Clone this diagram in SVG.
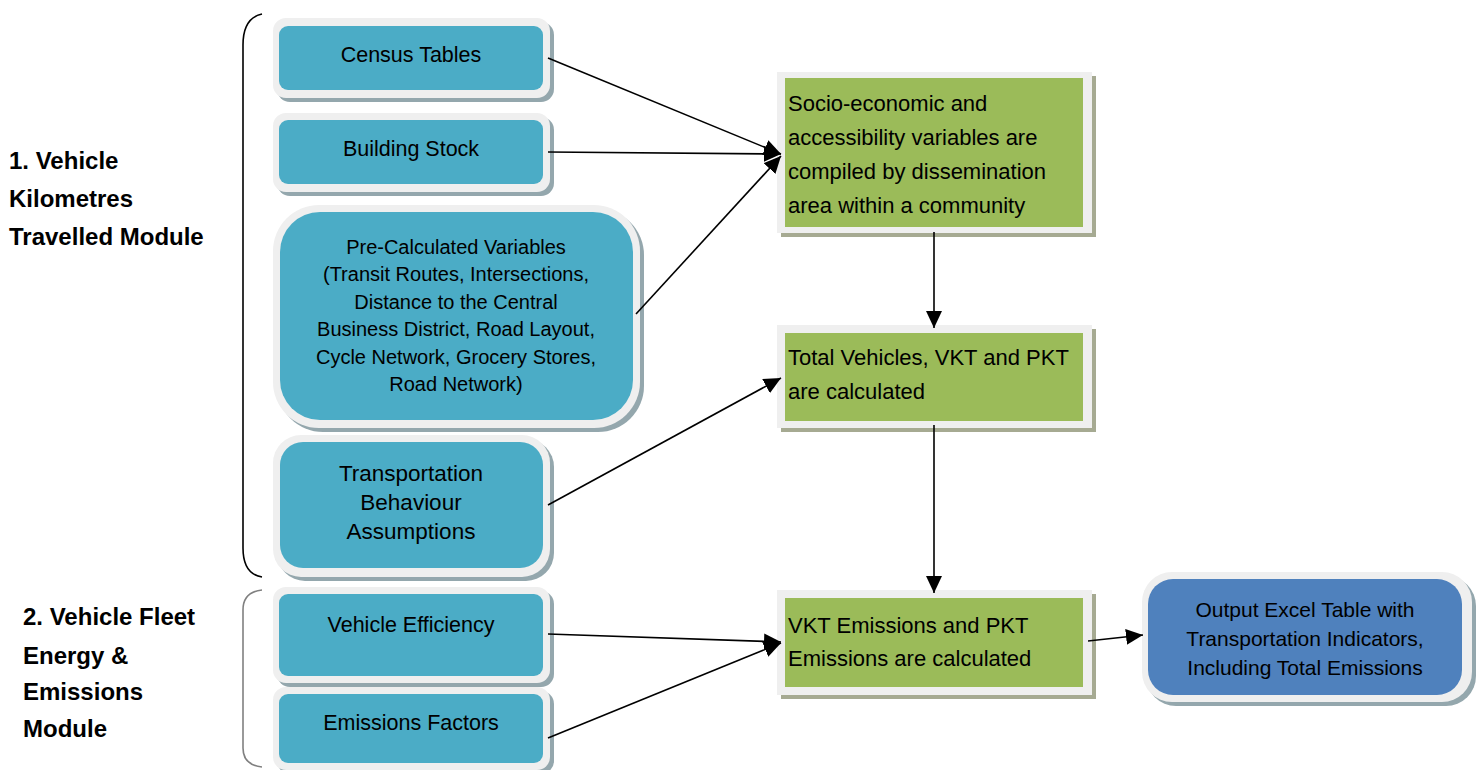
<svg xmlns="http://www.w3.org/2000/svg" width="1478" height="770" viewBox="0 0 1478 770">
<defs>
<marker id="ah" markerUnits="userSpaceOnUse" markerWidth="18" markerHeight="16" refX="17" refY="8" orient="auto"><path d="M0,0 L17,8 L0,16 Z" fill="#000"/></marker>
</defs>
<style>
.frame{fill:#efefef}
.shT{fill:#94a7ad}
.shG{fill:#a6aa92}
.teal{fill:#4bacc6}
.green{fill:#9bbb59}
.blue{fill:#4f81bd}
.t{font-family:"Liberation Sans",Arial,sans-serif;font-size:21.5px;fill:#000;text-anchor:middle}
.p{font-size:20px}
.b{font-size:22.5px}
.o{font-size:21px}
.g{font-family:"Liberation Sans",Arial,sans-serif;font-size:22px;fill:#000}
.lbl{font-family:"Liberation Sans",Arial,sans-serif;font-size:24px;font-weight:bold;fill:#000}
.con{stroke:#000;stroke-width:1.6;fill:none}
</style>
<rect width="1478" height="770" fill="#fff"/>

<g id="label1"><text class="lbl" x="9" y="169">1. Vehicle</text><text class="lbl" x="9" y="207">Kilometres</text><text class="lbl" x="9" y="245">Travelled Module</text></g>
<g id="label2"><text class="lbl" x="23" y="625">2. Vehicle Fleet</text><text class="lbl" x="23" y="664">Energy &amp;</text><text class="lbl" x="23" y="700">Emissions</text><text class="lbl" x="23" y="737">Module</text></g>

<g id="brackets">
<path d="M262,14 Q243,18 243,45 L243,548 Q243,574 262,577" fill="none" stroke="#000" stroke-width="1.6"/>
<path d="M262,590 Q243,592 243,610 L243,748 Q243,765 262,767" fill="none" stroke="#808080" stroke-width="1.6"/>
</g>

<g id="census"><rect class="shT" x="277" y="22" width="277" height="80" rx="13"/><rect class="frame" x="273" y="18" width="277" height="80" rx="13"/><rect class="teal" x="279" y="26" width="264" height="64" rx="9"/><text class="t" x="411" y="62">Census Tables</text></g>
<g id="building"><rect class="shT" x="277" y="117" width="277" height="79" rx="13"/><rect class="frame" x="273" y="113" width="277" height="79" rx="13"/><rect class="teal" x="279" y="120" width="264" height="64" rx="9"/><text class="t" x="411" y="156">Building Stock</text></g>
<g id="precalc"><rect class="shT" x="277" y="209" width="367" height="223" rx="46"/><rect class="frame" x="273" y="205" width="367" height="223" rx="46"/><rect class="teal" x="280" y="212" width="353" height="208" rx="40"/>
<text class="t p" x="456" y="254">Pre-Calculated Variables</text><text class="t p" x="456" y="281">(Transit Routes, Intersections,</text><text class="t p" x="456" y="309">Distance to the Central</text><text class="t p" x="456" y="336">Business District, Road Layout,</text><text class="t p" x="456" y="364">Cycle Network, Grocery Stores,</text><text class="t p" x="456" y="391">Road Network)</text></g>
<g id="transport"><rect class="shT" x="277" y="439" width="277" height="142" rx="28"/><rect class="frame" x="273" y="435" width="277" height="142" rx="28"/><rect class="teal" x="280" y="442" width="263" height="126" rx="23"/>
<text class="t b" x="411" y="481">Transportation</text><text class="t b" x="411" y="510">Behaviour</text><text class="t b" x="411" y="539">Assumptions</text></g>
<g id="efficiency"><rect class="shT" x="277" y="591" width="277" height="96" rx="13"/><rect class="frame" x="273" y="587" width="277" height="96" rx="13"/><rect class="teal" x="279" y="594" width="264" height="82" rx="9"/><text class="t" x="411" y="632">Vehicle Efficiency</text></g>
<g id="factors"><rect class="shT" x="277" y="691" width="277" height="83" rx="13"/><rect class="frame" x="273" y="687" width="277" height="83" rx="13"/><rect class="teal" x="279" y="694" width="264" height="69" rx="9"/><text class="t" x="411" y="730">Emissions Factors</text></g>

<g id="socio"><rect class="shG" x="781" y="76" width="315" height="161"/><rect class="frame" x="777" y="72" width="315" height="161"/><rect class="green" x="785" y="78" width="298" height="149"/>
<text class="g" x="788" y="111">Socio-economic and</text><text class="g" x="788" y="145">accessibility variables are</text><text class="g" x="788" y="179">compiled by dissemination</text><text class="g" x="788" y="213">area within a community</text></g>
<g id="total"><rect class="shG" x="781" y="329" width="315" height="103"/><rect class="frame" x="777" y="325" width="315" height="103"/><rect class="green" x="785" y="333" width="298" height="88"/>
<text class="g" x="788" y="365">Total Vehicles, VKT and PKT</text><text class="g" x="788" y="399">are calculated</text></g>
<g id="vkt"><rect class="shG" x="781" y="594" width="315" height="105"/><rect class="frame" x="777" y="590" width="315" height="105"/><rect class="green" x="785" y="598" width="298" height="89"/>
<text class="g" x="788" y="633">VKT Emissions and PKT</text><text class="g" x="788" y="666">Emissions are calculated</text></g>
<g id="output"><rect class="shT" x="1146" y="576" width="330" height="130" rx="30"/><rect class="frame" x="1142" y="572" width="330" height="130" rx="30"/><rect class="blue" x="1148" y="579" width="314" height="116" rx="25"/>
<text class="t o" x="1305" y="617">Output Excel Table with</text><text class="t o" x="1305" y="646">Transportation Indicators,</text><text class="t o" x="1305" y="675">Including Total Emissions</text></g>

<g id="connectors">
<line class="con" x1="548" y1="58" x2="781" y2="154" marker-end="url(#ah)"/>
<line class="con" x1="548" y1="152" x2="781" y2="154" marker-end="url(#ah)"/>
<line class="con" x1="636" y1="314" x2="781" y2="156" marker-end="url(#ah)"/>
<line class="con" x1="934" y1="232" x2="934" y2="328" marker-end="url(#ah)"/>
<line class="con" x1="548" y1="505" x2="781" y2="378" marker-end="url(#ah)"/>
<line class="con" x1="934" y1="425" x2="934" y2="593" marker-end="url(#ah)"/>
<line class="con" x1="548" y1="634" x2="781" y2="642" marker-end="url(#ah)"/>
<line class="con" x1="548" y1="738" x2="781" y2="643" marker-end="url(#ah)"/>
<line class="con" x1="1088" y1="641" x2="1143" y2="635" marker-end="url(#ah)"/>
</g>
</svg>
